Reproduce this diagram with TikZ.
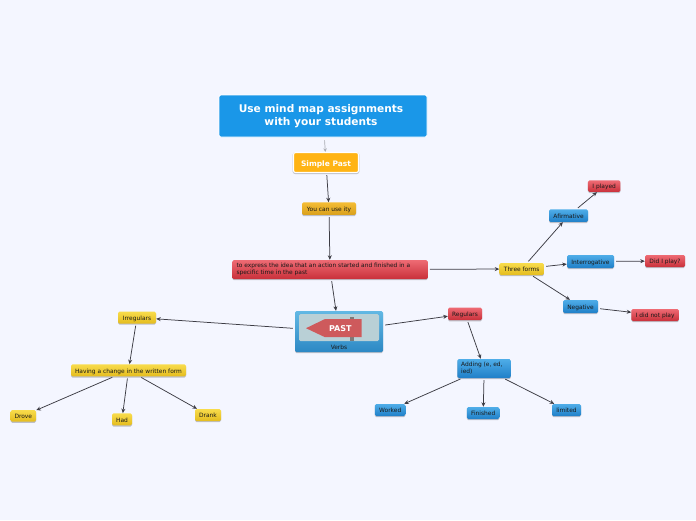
\documentclass[tikz,border=0pt]{standalone}
\usepackage{fontspec}
\setmainfont{DejaVu Sans}
\usetikzlibrary{arrows.meta,shadows}
\definecolor{bgc}{HTML}{F4F6FF}
\definecolor{linec}{HTML}{3C3C44}
\definecolor{lightline}{HTML}{A8AAB0}
\definecolor{shadowc}{HTML}{BDBFC8}
\definecolor{titleblue}{HTML}{1A97E8}
\definecolor{simpleorange}{HTML}{FFB414}
\definecolor{orangeA}{HTML}{F4BC34}
\definecolor{orangeB}{HTML}{D9A01C}
\definecolor{verbsA}{HTML}{62B8E4}
\definecolor{verbsB}{HTML}{4BA8DC}
\definecolor{verbsC}{HTML}{2C88C4}
\definecolor{panelc}{HTML}{B9D0D6}
\definecolor{postc}{HTML}{7E7A78}
\definecolor{pastred}{HTML}{CE5A5C}
\definecolor{red1}{HTML}{EE6B74}\definecolor{red2}{HTML}{D23F49}\definecolor{red3}{HTML}{C9303A}
\definecolor{blue1}{HTML}{4FADE8}\definecolor{blue2}{HTML}{2E93DA}\definecolor{blue3}{HTML}{1F7FC8}
\definecolor{yel1}{HTML}{F8DC4C}\definecolor{yel2}{HTML}{EFCB2A}\definecolor{yel3}{HTML}{E4BC1E}
\tikzset{
  x=1pt,y=-1pt,
  box/.style={rectangle,rounded corners=1.5pt,inner sep=0pt,align=center,font=\fontsize{5.9}{6.9}\selectfont,text=black!90,
    general shadow={shadow xshift=0pt,shadow yshift=-1.2pt,fill=shadowc}},
  oneline/.style={text height=5.5pt,text depth=0pt},
  redtwo/.style={box,top color=red1,middle color=red2,bottom color=red3},
  bluetwo/.style={box,top color=blue1,middle color=blue2,bottom color=blue3},
  redbox/.style={redtwo,oneline},
  bluebox/.style={bluetwo,oneline},
  yelbox/.style={box,oneline,top color=yel1,middle color=yel2,bottom color=yel3},
  conn/.style={draw=linec,line width=.75pt,-{Stealth[length=4.5pt,width=4pt]},shorten <=2pt},
}
\begin{document}
\begin{tikzpicture}
\useasboundingbox[fill=bgc] (0,0) rectangle (696,520);
% nodes
\node[rectangle,rounded corners=2pt,draw=white,line width=.8pt,fill=titleblue,text=white,inner sep=0pt,minimum width=208pt,minimum height=42pt,font=\fontsize{10.6}{13}\selectfont\bfseries] (title) at (323,116) {\hspace*{-4pt}\raisebox{-1.5pt}{\parbox{204pt}{\centering Use mind map assignments\\with your students}}};
\node[rectangle,rounded corners=2pt,draw=white,line width=1.2pt,fill=simpleorange,text=white,inner sep=0pt,minimum width=65pt,minimum height=20pt,text height=7pt,text depth=0pt,font=\fontsize{7.5}{9}\selectfont\bfseries,general shadow={shadow xshift=0pt,shadow yshift=-.6pt,draw=shadowc,line width=1.9pt,fill=shadowc}] (simple) at (326,162.5) {Simple Past};
\node[box,oneline,top color=orangeA,bottom color=orangeB,minimum width=54pt,minimum height=12.5pt] (youcan) at (329,208.7) {You can use ity};
\node[redtwo,minimum width=195.5pt,minimum height=19pt] (express) at (330,269.5) {\raisebox{-1.2pt}{\parbox{187pt}{\raggedright to express the idea that an action started and finished in a\\specific time in the past}}};
\node[box,top color=verbsA,middle color=verbsB,bottom color=verbsC,minimum width=88pt,minimum height=41pt,text height=37pt,text depth=2pt] (verbs) at (339,331.5) {Verbs};
\node[yelbox,minimum width=44.5pt,minimum height=12pt] (three) at (521.7,269) {Three forms};
\node[bluebox,minimum width=39pt,minimum height=12.5pt] (afirm) at (568.5,215.7) {Afirmative};
\node[redbox,minimum width=32.5pt,minimum height=11.5pt] (played) at (604.2,186.2) {I played};
\node[bluebox,minimum width=47pt,minimum height=13pt] (interr) at (590.5,261.5) {Interrogative};
\node[redbox,minimum width=40pt,minimum height=12pt] (did) at (665,261) {Did I play?};
\node[bluebox,minimum width=35pt,minimum height=13pt] (neg) at (580.5,306.5) {Negative};
\node[redbox,minimum width=47.5pt,minimum height=12pt] (didnot) at (655.2,315) {I did not play};
\node[redbox,minimum width=34pt,minimum height=12.5pt] (reg) at (465,313.8) {Regulars};
\node[bluetwo,minimum width=53.5pt,minimum height=19pt] (adding) at (484.2,368.5) {\raisebox{-.8pt}{\parbox{46pt}{\raggedright Adding (e, ed,\\ied)}}};
\node[bluebox,minimum width=30.5pt,minimum height=12pt] (worked) at (390.2,410) {Worked};
\node[bluebox,minimum width=32.5pt,minimum height=12pt] (finished) at (483.2,413) {Finished};
\node[bluebox,minimum width=29pt,minimum height=12pt] (limited) at (566.5,410) {limited};
\node[yelbox,minimum width=38pt,minimum height=12pt] (irreg) at (137,317.5) {Irregulars};
\node[yelbox,minimum width=115pt,minimum height=12pt] (having) at (128.5,370.3) {Having a change in the written form};
\node[yelbox,minimum width=25.5pt,minimum height=11.5pt] (drove) at (23.3,415.8) {Drove};
\node[yelbox,minimum width=20pt,minimum height=12pt] (had) at (122,419.3) {Had};
\node[yelbox,minimum width=26pt,minimum height=12pt] (drank) at (208,415) {Drank};
% picture inside the Verbs topic
\fill[panelc,rounded corners=1.5pt] (299,314) rectangle (379,341);
\fill[postc] (350,316.5) rectangle (354,341);
\fill[pastred] (306,328.2) -- (325,319) -- (361.5,319) -- (361.5,337.2) -- (325,337.2) -- cycle;
\node[font=\fontsize{8}{9}\selectfont\bfseries,text=white,inner sep=0pt] (past) at (340.3,328.4) {PAST};
% connectors
\draw[draw=lightline,line width=.7pt,-{Stealth[length=3.5pt,width=3.5pt,open]},shorten <=3pt] (title) -- (simple);
\draw[conn] (simple) -- (youcan);
\draw[conn] (youcan) -- (express);
\draw[conn] (express) -- (three);
\draw[conn] (express) -- (verbs);
\draw[conn] (verbs) -- (reg);
\draw[conn] (verbs) -- (irreg);
\draw[conn] (reg) -- (adding);
\draw[conn] (adding) -- (worked);
\draw[conn] (adding) -- (finished);
\draw[conn] (adding) -- (limited);
\draw[conn] (three) -- (afirm);
\draw[conn] (three) -- (interr);
\draw[conn] (three) -- (neg);
\draw[conn] (afirm) -- (played);
\draw[conn] (interr) -- (did);
\draw[conn] (neg) -- (didnot);
\draw[conn] (irreg) -- (having);
\draw[conn] (having) -- (drove);
\draw[conn] (having) -- (had);
\draw[conn] (having) -- (drank);
\end{tikzpicture}
\end{document}
